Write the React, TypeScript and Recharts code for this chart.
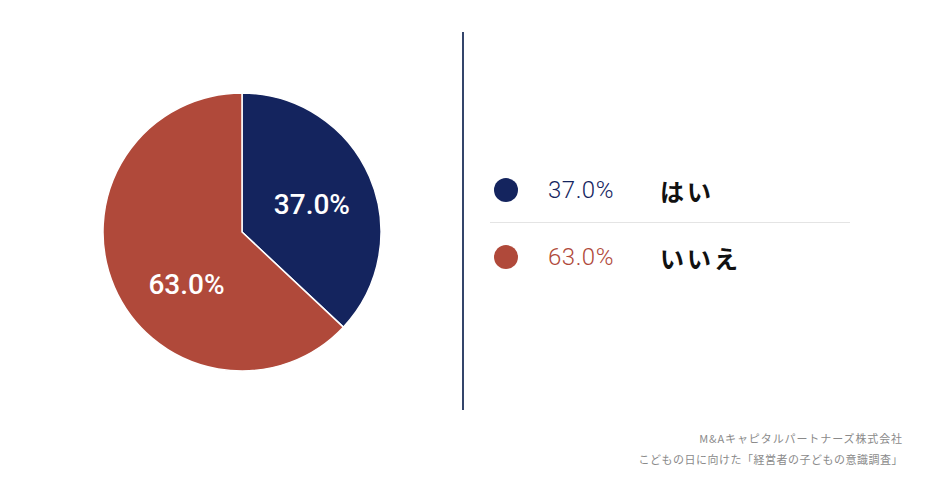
import { PieChart, Pie, Cell, Legend } from 'recharts';

const answers = ['はい', 'いいえ'];
const shares = [37.0, 63.0];
const colors = ['#14245e', '#b0493a'];
const footerLines = ['M&Aキャピタルパートナーズ株式会社', 'こどもの日に向けた「経営者の子どもの意識調査」'];

const data = answers.map((name, i) => ({ name, value: shares[i] }));

const RADIAN = Math.PI / 180;
// small nudges so the slice labels sit where the original puts them
const labelTweak = [
  { angle: -2, r: 0.54 },
  { angle: 20, r: 0.55 },
];

const renderLabel = (props: any) => {
  const { cx, cy, midAngle, outerRadius, index, value } = props;
  const t = labelTweak[index];
  const a = (midAngle + t.angle) * RADIAN;
  const r = outerRadius * t.r;
  const x = cx + r * Math.cos(a);
  const y = cy - r * Math.sin(a);
  return (
    <text
      x={x}
      y={y}
      fill="#fff"
      textAnchor="middle"
      dominantBaseline="central"
      fontFamily="Roboto"
      fontWeight={500}
      fontSize={28}
    >
      {value.toFixed(1)}%
    </text>
  );
};

const LegendBox = () => (
  <div style={{ width: 360 }}>
    {data.map((d, i) => (
      <div key={d.name}>
        <div style={{ display: 'flex', alignItems: 'center', height: 36 }}>
          <span
            style={{
              width: 24,
              height: 24,
              borderRadius: 12,
              background: colors[i],
              marginLeft: 4,
              display: 'inline-block',
            }}
          />
          <span
            style={{
              fontFamily: 'Roboto',
              fontWeight: 300,
              fontSize: 24,
              letterSpacing: 0.5,
              color: colors[i],
              marginLeft: 30,
              width: 112,
            }}
          >
            {d.value.toFixed(1)}%
          </span>
          <span
            style={{
              fontFamily: '"Noto Sans CJK JP"',
              fontWeight: 700,
              fontSize: 24,
              letterSpacing: 3,
              color: '#111',
            }}
          >
            {d.name}
          </span>
        </div>
        {i < data.length - 1 && <div style={{ height: 1, background: '#e4e4e4', margin: '14px 0 16px 0' }} />}
      </div>
    ))}
  </div>
);

const App = () => (
  <div style={{ position: 'absolute', left: 0, top: 0, width: 930, height: 484, background: '#fff' }}>
    <PieChart width={930} height={484} margin={{ top: 0, right: 0, bottom: 0, left: 0 }}>
      <Pie
        data={data}
        dataKey="value"
        nameKey="name"
        cx={242}
        cy={232}
        outerRadius={139}
        startAngle={90}
        endAngle={-270}
        stroke="#fff"
        strokeWidth={1.5}
        label={renderLabel}
        labelLine={false}
        isAnimationActive={false}
      >
        {data.map((d, i) => (
          <Cell key={d.name} fill={colors[i]} />
        ))}
      </Pie>
      <Legend
        content={<LegendBox />}
        layout="vertical"
        wrapperStyle={{ position: 'absolute', left: 490, top: 172, width: 360 }}
      />
    </PieChart>
    <div style={{ position: 'absolute', left: 462, top: 32, width: 1.5, height: 378, background: '#34456b' }} />
    <div
      style={{
        position: 'absolute',
        right: 27,
        top: 428,
        textAlign: 'right',
        fontFamily: '"Noto Sans CJK JP"',
        fontSize: 11,
        letterSpacing: 0.5,
        color: '#8a8a8a',
        lineHeight: '21px',
      }}
    >
      {footerLines.map((l, i) => (
        <div key={l} style={i === 0 ? { letterSpacing: 0.9 } : undefined}>
          {l}
        </div>
      ))}
    </div>
  </div>
);

export default App;
